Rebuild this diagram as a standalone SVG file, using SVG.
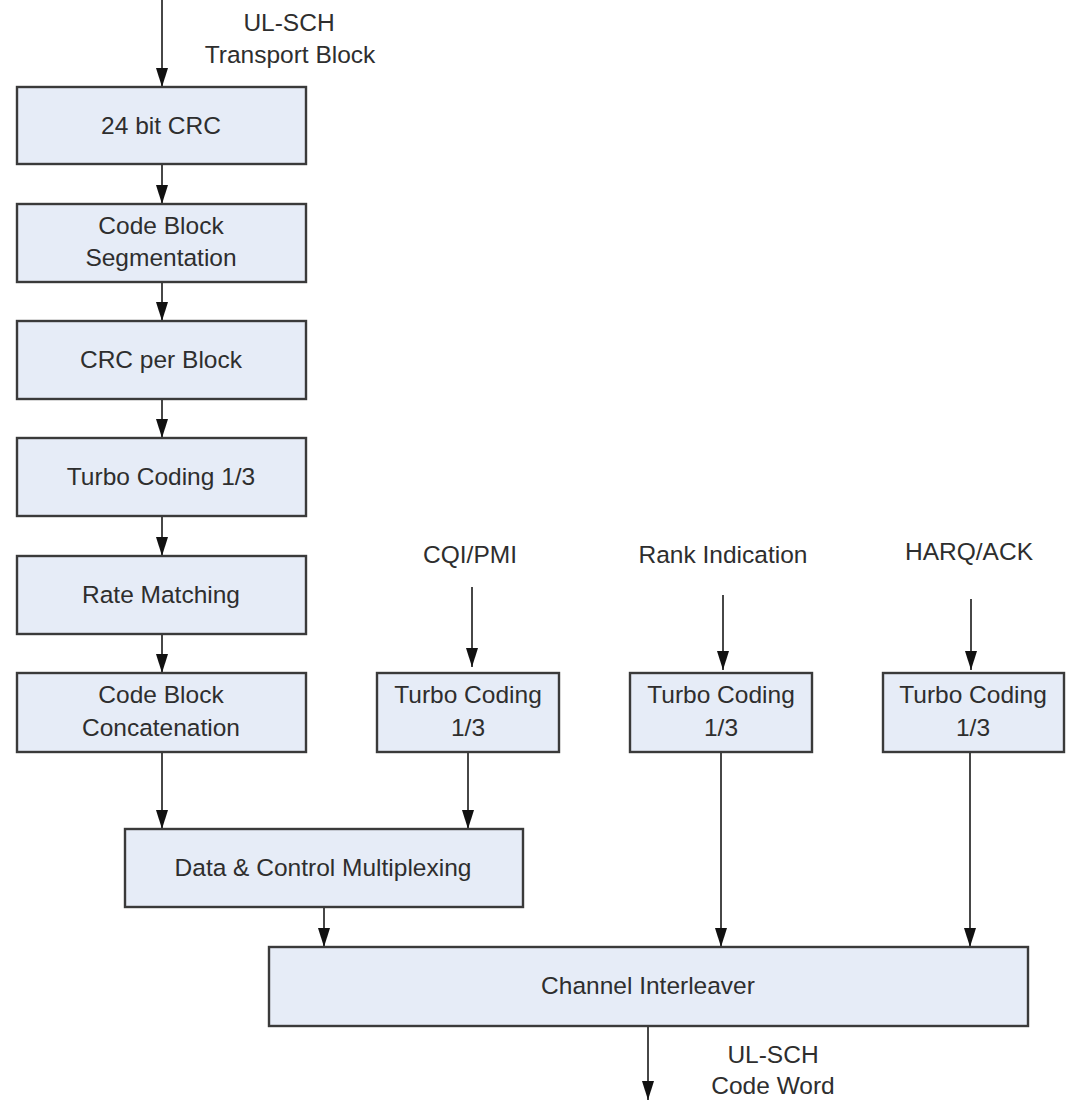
<svg xmlns="http://www.w3.org/2000/svg" width="1066" height="1100" viewBox="0 0 1066 1100">
<style>
.box{fill:#e6ecf7;stroke:#3a3a3a;stroke-width:2.4}
.t{font-family:"Liberation Sans",Arial,sans-serif;font-size:24.5px;fill:#2e2e2e;text-anchor:middle}
.c{stroke:#333;stroke-width:1.8;fill:none;marker-end:url(#ah)}
</style>
<defs>
<marker id="ah" markerUnits="userSpaceOnUse" markerWidth="19" markerHeight="12" refX="19" refY="6" orient="auto" viewBox="0 0 19 12">
<path d="M0,0 L19,6 L0,12 z" fill="#111"/>
</marker>
</defs>
<rect width="1066" height="1100" fill="#fff"/>
<g id="connectors">
<line class="c" x1="162" y1="0" x2="162" y2="87"/>
<line class="c" x1="162" y1="164" x2="162" y2="204"/>
<line class="c" x1="162" y1="282" x2="162" y2="321"/>
<line class="c" x1="162" y1="399" x2="162" y2="438"/>
<line class="c" x1="162" y1="516" x2="162" y2="556"/>
<line class="c" x1="162" y1="634" x2="162" y2="673"/>
<line class="c" x1="162" y1="752" x2="162" y2="829"/>
<line class="c" x1="472" y1="587" x2="472" y2="667"/>
<line class="c" x1="723" y1="595" x2="723" y2="670"/>
<line class="c" x1="971" y1="599" x2="971" y2="670"/>
<line class="c" x1="468" y1="752" x2="468" y2="829"/>
<line class="c" x1="324" y1="907" x2="324" y2="947"/>
<line class="c" x1="721" y1="752" x2="721" y2="947"/>
<line class="c" x1="970" y1="752" x2="970" y2="947"/>
<line class="c" x1="648" y1="1026" x2="648" y2="1100"/>
</g>
<g id="label-in">
<text class="t" x="289" y="31">UL-SCH</text>
<text class="t" x="290" y="63">Transport Block</text>
</g>
<g id="crc24"><rect class="box" x="17" y="87" width="289" height="77"/><text class="t" x="161" y="134">24 bit CRC</text></g>
<g id="cbseg"><rect class="box" x="17" y="204" width="289" height="78"/><text class="t" x="161" y="234">Code Block</text><text class="t" x="161" y="266">Segmentation</text></g>
<g id="crcblock"><rect class="box" x="17" y="321" width="289" height="78"/><text class="t" x="161" y="368">CRC per Block</text></g>
<g id="turbo"><rect class="box" x="17" y="438" width="289" height="78"/><text class="t" x="161" y="485">Turbo Coding 1/3</text></g>
<g id="rate"><rect class="box" x="17" y="556" width="289" height="78"/><text class="t" x="161" y="603">Rate Matching</text></g>
<g id="cbconcat"><rect class="box" x="17" y="673" width="289" height="79"/><text class="t" x="161" y="703">Code Block</text><text class="t" x="161" y="736">Concatenation</text></g>
<g id="label-cqi"><text class="t" x="470" y="563">CQI/PMI</text></g>
<g id="label-rank"><text class="t" x="723" y="563">Rank Indication</text></g>
<g id="label-harq"><text class="t" x="969" y="560">HARQ/ACK</text></g>
<g id="turbo-cqi"><rect class="box" x="377" y="673" width="182" height="79"/><text class="t" x="468" y="703">Turbo Coding</text><text class="t" x="468" y="736">1/3</text></g>
<g id="turbo-rank"><rect class="box" x="630" y="673" width="182" height="79"/><text class="t" x="721" y="703">Turbo Coding</text><text class="t" x="721" y="736">1/3</text></g>
<g id="turbo-harq"><rect class="box" x="883" y="673" width="181" height="79"/><text class="t" x="973" y="703">Turbo Coding</text><text class="t" x="973" y="736">1/3</text></g>
<g id="mux"><rect class="box" x="125" y="829" width="398" height="78"/><text class="t" x="323" y="876">Data &amp; Control Multiplexing</text></g>
<g id="interleaver"><rect class="box" x="269" y="947" width="759" height="79"/><text class="t" x="648" y="994">Channel Interleaver</text></g>
<g id="label-out">
<text class="t" x="773" y="1063">UL-SCH</text>
<text class="t" x="773" y="1094">Code Word</text>
</g>
</svg>
